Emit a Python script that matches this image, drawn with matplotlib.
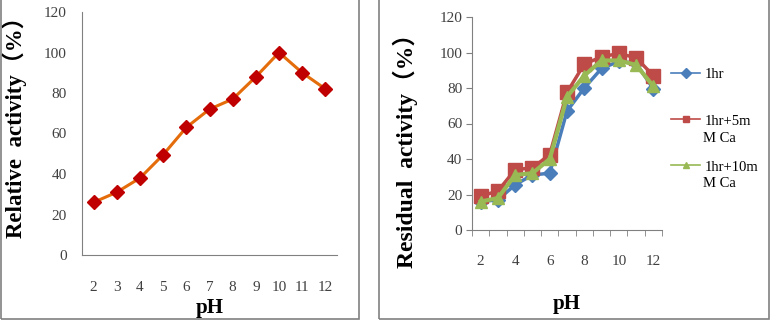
import numpy as np
import matplotlib
matplotlib.use("Agg")
import matplotlib.pyplot as plt
from matplotlib.patches import Rectangle

plt.rcParams['font.family'] = ['Liberation Serif', 'Noto Sans CJK SC', 'DejaVu Serif']

# left chart: relative activity vs pH
ph = [2, 3, 4, 5, 6, 7, 8, 9, 10, 11, 12]
relative = [26, 31, 38, 49.5, 63, 72, 77, 88, 100, 90, 82]

# right chart: residual activity vs pH
residual_1hr = [16, 17, 25.5, 31, 32, 67, 80, 91, 95, 94, 79.5]
residual_5mm = [19, 22, 34, 35, 42.5, 77.5, 93.5, 97.5, 99.5, 97, 87]
residual_10mm = [16, 18, 31, 32, 40, 75, 87, 95.5, 95.5, 93, 81]
series_labels = ["1hr", "1hr+5m", "1hr+10m"]
label_second_line = ["", "M Ca", "M Ca"]

W, H = 771, 321
fig = plt.figure(figsize=(W / 100, H / 100), dpi=100)

def fx(px):
    return px / W

def fy(py):
    return 1 - py / H

# panel frames
fig.patches.append(Rectangle((fx(1), fy(319)), fx(358), fy(0) - fy(319) + 0.01,
                             transform=fig.transFigure, fill=False,
                             edgecolor='#808080', lw=1.2))
fig.patches.append(Rectangle((fx(379), fy(319)), fx(390), fy(0) - fy(319) + 0.01,
                             transform=fig.transFigure, fill=False,
                             edgecolor='#808080', lw=1.2))

tick_color = '#404040'
pos = np.arange(len(ph))

# ---- left chart
ax1 = fig.add_axes([fx(82), fy(255), fx(337 - 82), fy(12) - fy(255)])
ax1.plot(pos, relative, color='#E46C0A', lw=2.2, marker='D', ms=7,
         mfc='#C00000', mec='#C00000', zorder=3)
ax1.set_xlim(-0.5, len(ph) - 0.5)
ax1.set_ylim(0, 120)
ax1.set_yticks(range(0, 121, 20))
ax1.set_xticks(pos)
ax1.set_xticklabels([str(p) for p in ph])
ax1.tick_params(axis='both', length=0, labelsize=11, labelcolor=tick_color)
ax1.tick_params(axis='x', pad=19)
ax1.tick_params(axis='y', pad=11)
for s in ['top', 'right']:
    ax1.spines[s].set_visible(False)
for s in ['left', 'bottom']:
    ax1.spines[s].set_color('#808080')
ax1.set_xlabel('pH', fontsize=15, fontweight='bold')
ax1.xaxis.set_label_coords(0.5, -0.175)
ax1.set_ylabel('Relative  activity\uff08%\uff09', fontsize=16.5, fontweight='bold')
ax1.yaxis.set_label_coords(-0.215, 0.55)

# ---- right chart
ax2 = fig.add_axes([fx(472), fy(230), fx(662 - 472), fy(17) - fy(230)])
ax2.plot(pos, residual_1hr, color='#4A7EBB', lw=2.5, marker='D', ms=7,
         mfc='#4A7EBB', mec='#4A7EBB', label=series_labels[0], zorder=3)
ax2.plot(pos, residual_5mm, color='#BE4B48', lw=2.5, marker='s', ms=10,
         mfc='#BE4B48', mec='#BE4B48', label=series_labels[1], zorder=4)
ax2.plot(pos, residual_10mm, color='#98B954', lw=3, marker='^', ms=9,
         mfc='#98B954', mec='#98B954', label=series_labels[2], zorder=5)
ax2.set_xlim(-0.5, len(ph) - 0.5)
ax2.set_ylim(0, 120)
ax2.set_yticks(range(0, 121, 20))
ax2.set_xticks(pos[::2])
ax2.set_xticklabels([str(p) for p in ph[::2]])
ax2.set_xticks(np.arange(-0.5, len(ph), 1), minor=True)
ax2.tick_params(axis='x', which='major', length=0, labelsize=11,
                labelcolor=tick_color, pad=18)
ax2.tick_params(axis='x', which='minor', length=4, color='#808080')
ax2.tick_params(axis='y', length=4, color='#808080', labelsize=11,
                labelcolor=tick_color, pad=3)
for s in ['top', 'right']:
    ax2.spines[s].set_visible(False)
for s in ['left', 'bottom']:
    ax2.spines[s].set_color('#808080')
ax2.set_xlabel('pH', fontsize=15, fontweight='bold')
ax2.xaxis.set_label_coords(0.5, -0.30)
ax2.set_ylabel('Residual  activity\uff08%\uff09', fontsize=17, fontweight='bold')
ax2.yaxis.set_label_coords(-0.284, 0.40)

handles, labels = ax2.get_legend_handles_labels()
small = []
for h in handles:
    h2 = plt.Line2D([], [], color=h.get_color(), lw=1.2, marker=h.get_marker(),
                    ms=5, mfc=h.get_markerfacecolor(), mec=h.get_markeredgecolor())
    small.append(h2)
fig.legend(small, labels, loc='upper left', bbox_to_anchor=(fx(664), fy(61)),
           frameon=False, fontsize=10.5, handlelength=2.0, handletextpad=0.3,
           labelspacing=2.25, borderpad=0)
# second lines of the wrapped legend labels
for y_px, txt in zip([72, 122, 168], label_second_line):
    if txt:
        fig.text(fx(703), fy(y_px + 16), txt, fontsize=10.5, va='center', ha='left')

fig.savefig('out.png', dpi=100)
